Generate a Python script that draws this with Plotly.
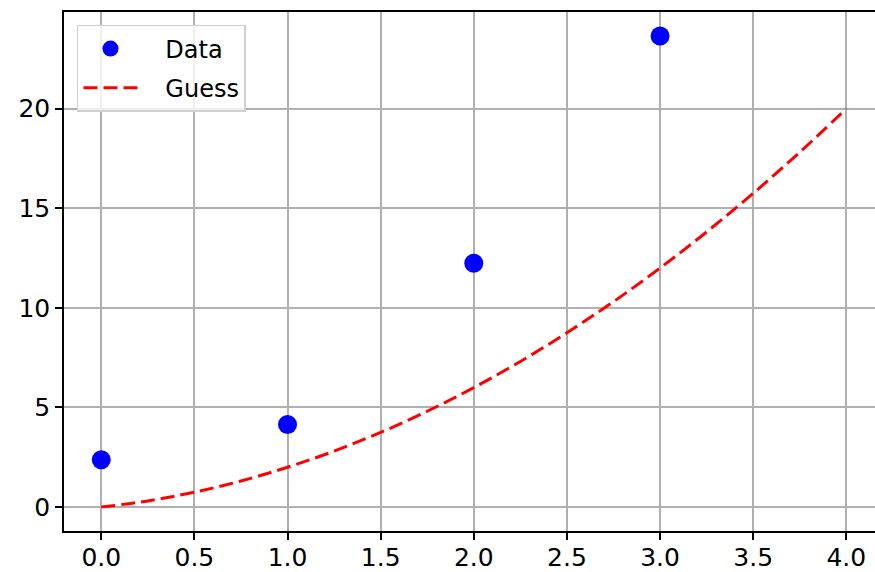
import plotly.graph_objects as go

data_x = [0.0, 1.0, 2.0, 3.0]
data_y = [2.38, 4.15, 12.24, 23.65]

guess_x = [0.0, 0.25, 0.5, 0.75, 1.0, 1.25, 1.5, 1.75, 2.0, 2.25, 2.5, 2.75,
           3.0, 3.25, 3.5, 3.75, 4.0]
guess_y = [0.0, 0.31, 0.75, 1.31, 2.0, 2.81, 3.75, 4.81, 6.0, 7.31, 8.75,
           10.31, 12.0, 13.81, 15.75, 17.81, 20.0]

x_ticks = [0.0, 0.5, 1.0, 1.5, 2.0, 2.5, 3.0, 3.5, 4.0]
y_ticks = [0, 5, 10, 15, 20]

series_names = ["Data", "Guess"]
pad = "\u00a0\u00a0\u00a0"

fig = go.Figure()
fig.add_trace(go.Scatter(x=data_x, y=data_y, mode="markers", name=pad + series_names[0],
                         legendgroup="a",
                         marker=dict(color="#0000ff", size=19)))
fig.add_trace(go.Scatter(x=guess_x, y=guess_y, mode="lines", name=pad + series_names[1],
                         legendgroup="b",
                         line=dict(color="#ff0000", width=3, dash="14px,6px"),
                         line_shape="spline"))

axis_common = dict(showgrid=True, gridcolor="#b0b0b0", gridwidth=1.5,
                   zeroline=False, showline=True, linecolor="black", linewidth=1.5,
                   ticks="outside", ticklen=7, tickwidth=1.5, tickcolor="black",
                   automargin=False,
                   tickfont=dict(family="DejaVu Sans", size=25, color="black"))

fig.update_xaxes(range=[-0.2, 4.154], tickvals=x_ticks, ticklabelstandoff=-4,
                 ticktext=[f"{v:.1f}" for v in x_ticks], mirror=True, **axis_common)
fig.update_yaxes(range=[-1.2, 24.85], tickvals=y_ticks, mirror=True, **axis_common)

fig.update_layout(
    width=875, height=572,
    margin=dict(l=64, r=0, t=12, b=41),
    plot_bgcolor="white", paper_bgcolor="white",
    font=dict(family="DejaVu Sans", size=24, color="black"),
    legend=dict(x=0.016, y=0.975, xanchor="left", yanchor="top",
                bgcolor="rgba(255,255,255,0.8)", bordercolor="#d0d0d0",
                borderwidth=1.5, font=dict(size=24), itemwidth=54,
                tracegroupgap=5),
    showlegend=True,
)

fig.write_html("out.html")
